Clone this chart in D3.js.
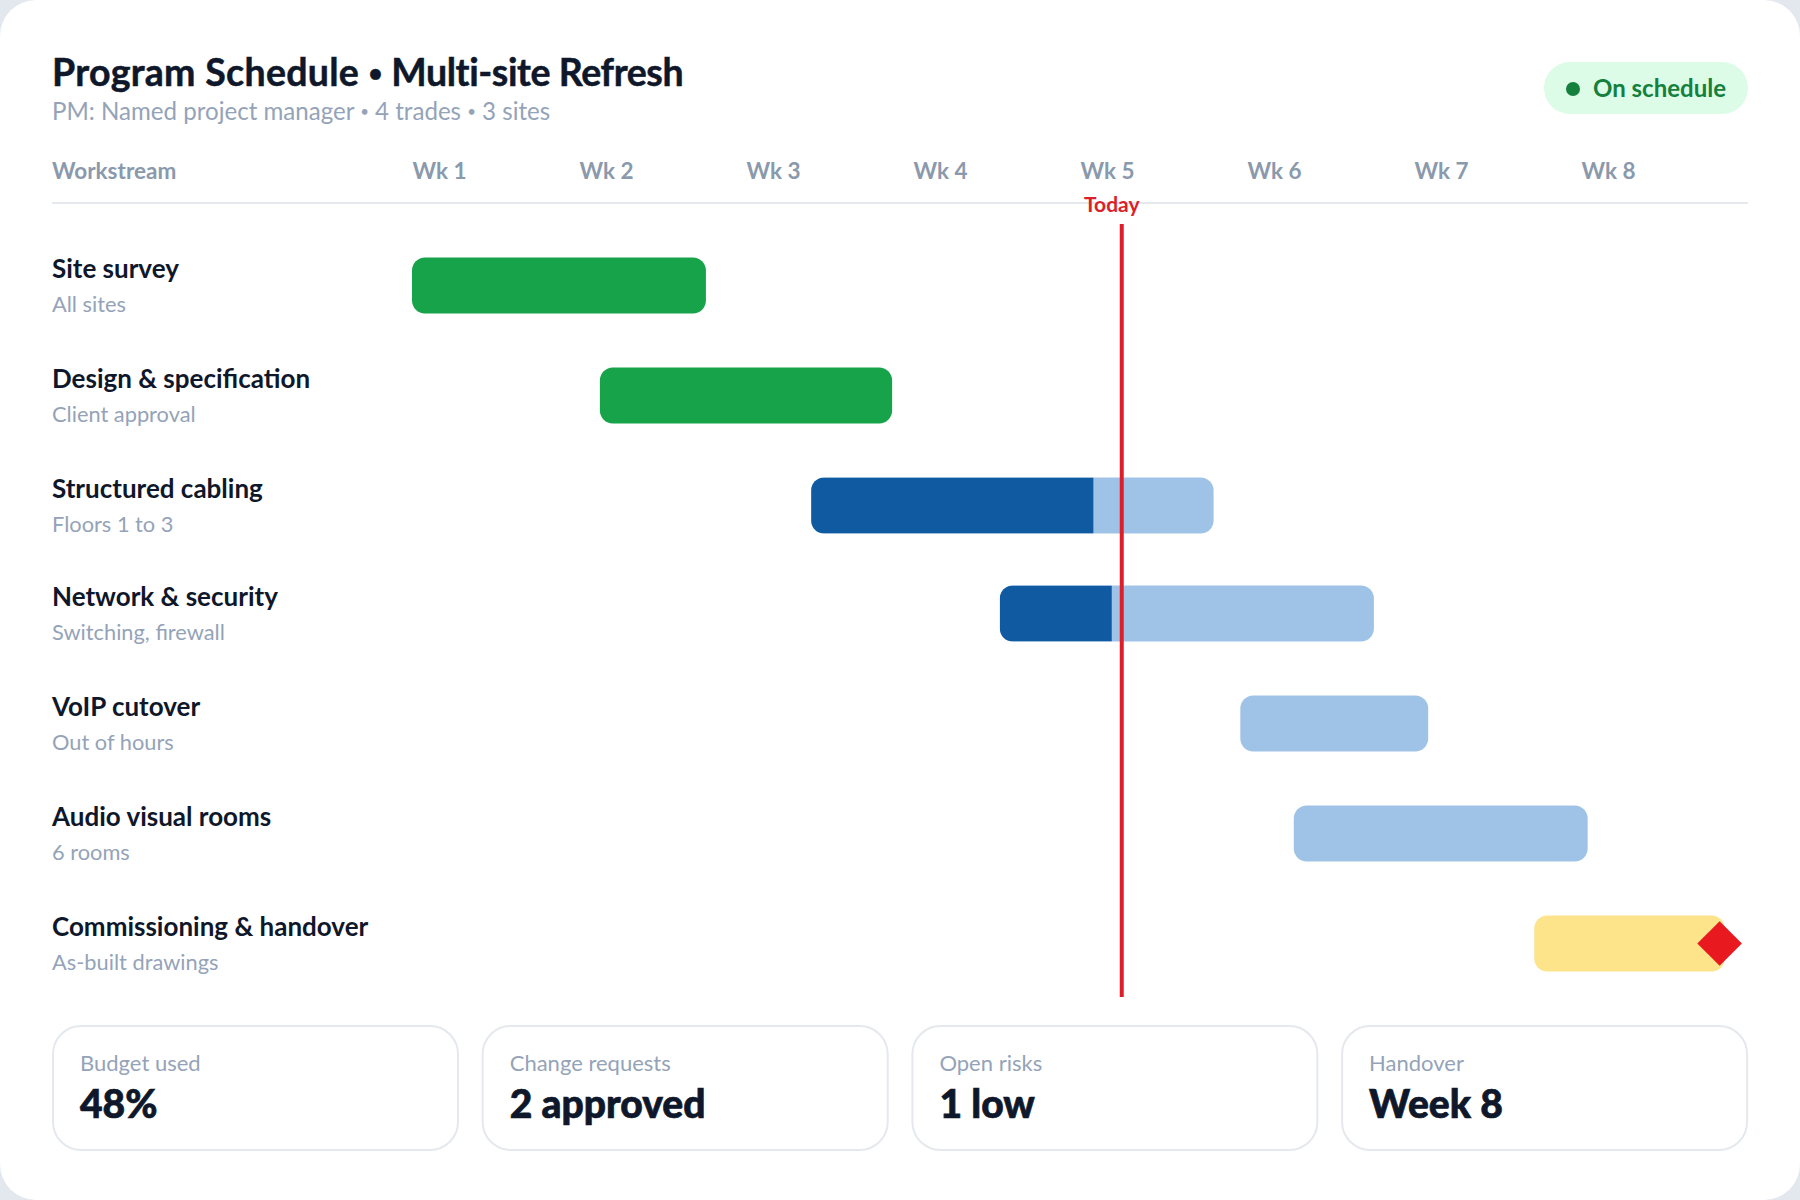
<!DOCTYPE html>
<html lang="en">
<head>
<meta charset="UTF-8">
<title>Program Schedule</title>
<script src="https://cdnjs.cloudflare.com/ajax/libs/d3/7.8.5/d3.min.js"></script>
<style>
    html, body { margin: 0; background: #e2e8ee; }
    svg { display: block; font-family: Lato, sans-serif; }
    .title { font-size: 37.5px; font-weight: 700; fill: #0f172a; stroke: #0f172a; stroke-width: 0.5px; }
    .subtitle { font-size: 24.1px; fill: #94a3b8; }
    .badge-text { font-size: 24px; font-weight: 700; fill: #15803d; }
    .head { font-size: 22.5px; font-weight: 700; fill: #8a99ab; }
    .axis path, .axis line { display: none; }
    .axis text { font-family: Lato, sans-serif; font-size: 22.5px; font-weight: 700; fill: #8a99ab; text-anchor: start; }
    .task { font-size: 26px; font-weight: 700; fill: #0f172a; }
    .detail { font-size: 21.8px; fill: #94a3b8; }
    .today { font-size: 21px; font-weight: 700; fill: #dc1f2b; }
    .kpi-label { font-size: 22px; fill: #94a3b8; }
    .kpi-value { font-size: 39px; font-weight: 900; fill: #0f172a; stroke: #0f172a; stroke-width: 0.7px; }
</style>
</head>
<body>
<div id="chart"></div>
<script>
// Data, in weeks from the start of Wk 1
const weeks = ["Wk 1", "Wk 2", "Wk 3", "Wk 4", "Wk 5", "Wk 6", "Wk 7", "Wk 8"];
const tasks = ["Site survey", "Design & specification", "Structured cabling", "Network & security", "VoIP cutover", "Audio visual rooms", "Commissioning & handover"];
const details = ["All sites", "Client approval", "Floors 1 to 3", "Switching, firewall", "Out of hours", "6 rooms", "As-built drawings"];
const starts = [0, 1.125, 2.39, 3.52, 4.96, 5.28, 6.72];
const ends = [1.76, 2.875, 4.80, 5.76, 6.085, 7.04, 7.86];
const doneTo = [1.76, 2.875, 4.08, 4.19, null, null, null];
const states = ["complete", "complete", "active", "active", "planned", "planned", "handover"];
const today = 4.25;
const milestone = 7.83;
const kpiLabels = ["Budget used", "Change requests", "Open risks", "Handover"];
const kpiValues = ["48%", "2 approved", "1 low", "Week 8"];

// Layout
const width = 1800, height = 1200;
const left = 52, right = 1748;
const barHeight = 56;
const rowTops = [257.5, 367.5, 477.5, 585.5, 695.5, 805.5, 915.5];
const stateColor = { complete: "#16a34a", active: "#9fc3e7", planned: "#9fc3e7", handover: "#fde38a" };

const x = d3.scaleLinear().domain([0, 8]).range([412, 1748]);
const y = d3.scaleOrdinal().domain(tasks).range(rowTops);

const svg = d3.select("#chart").append("svg")
    .attr("width", width)
    .attr("height", height);

// Card
svg.append("rect")
    .attr("width", width)
    .attr("height", height)
    .attr("rx", 36)
    .attr("fill", "#fff");

// Header, the bullets are smaller than the words round them
const title = svg.append("text").attr("class", "title").attr("x", left).attr("y", 86);
title.append("tspan").attr("letter-spacing", 0.3).text("Program Schedule ");
title.append("tspan").attr("font-size", 24).attr("dy", -4).text("\u2022");
title.append("tspan").attr("letter-spacing", -0.4).attr("dy", 4).text(" Multi-site Refresh");

const subtitle = svg.append("text").attr("class", "subtitle").attr("x", left).attr("y", 120);
subtitle.append("tspan").text("PM: Named project manager ");
subtitle.append("tspan").attr("font-size", 15).attr("dy", -3).text("\u2022");
subtitle.append("tspan").attr("dy", 3).text(" 4 trades ");
subtitle.append("tspan").attr("font-size", 15).attr("dy", -3).text("\u2022");
subtitle.append("tspan").attr("dy", 3).text(" 3 sites");

svg.append("rect")
    .attr("x", 1544).attr("y", 62)
    .attr("width", 204).attr("height", 52)
    .attr("rx", 26)
    .attr("fill", "#dcfce7");
svg.append("circle").attr("cx", 1573).attr("cy", 89).attr("r", 7).attr("fill", "#15803d");
svg.append("text").attr("class", "badge-text").attr("x", 1593).attr("y", 97).text("On schedule");

// Week axis
svg.append("text").attr("class", "head").attr("x", left).attr("y", 178.5).text("Workstream");

const axis = d3.axisTop(x)
    .tickValues(d3.range(weeks.length))
    .tickFormat(i => weeks[i])
    .tickSize(0)
    .tickPadding(0);

const axisG = svg.append("g")
    .attr("class", "axis")
    .attr("transform", "translate(0,178.5)")
    .call(axis);
axisG.selectAll("text").attr("dy", 0);

svg.append("line")
    .attr("x1", left).attr("x2", right)
    .attr("y1", 203).attr("y2", 203)
    .attr("stroke", "#e5e9ed")
    .attr("stroke-width", 2);

// Row labels
svg.selectAll(".task").data(tasks).join("text")
    .attr("class", "task")
    .attr("x", left)
    .attr("y", d => y(d) + 20.5)
    .text(d => d);

svg.selectAll(".detail").data(details).join("text")
    .attr("class", "detail")
    .attr("x", left)
    .attr("y", (d, i) => y(tasks[i]) + 54.5)
    .text(d => d);

// Bars
const defs = svg.append("defs");
const bars = svg.selectAll(".bar").data(tasks).join("g").attr("class", "bar");

bars.each(function(name, i) {
    const g = d3.select(this);
    const shape = sel => sel
        .attr("x", x(starts[i]))
        .attr("y", y(name))
        .attr("width", x(ends[i]) - x(starts[i]))
        .attr("height", barHeight)
        .attr("rx", 13);

    g.append("rect").call(shape).attr("fill", stateColor[states[i]]);

    // Done part of a bar still in progress
    if (states[i] === "active") {
        const id = "clip" + i;
        defs.append("clipPath").attr("id", id).append("rect").call(shape);
        g.append("rect")
            .attr("clip-path", `url(#${id})`)
            .attr("x", x(starts[i]))
            .attr("y", y(name))
            .attr("width", x(doneTo[i]) - x(starts[i]))
            .attr("height", barHeight)
            .attr("fill", "#0f5aa1");
    }
});

// Handover milestone
svg.append("path")
    .attr("d", d3.symbol(d3.symbolSquare, 992)())
    .attr("transform", `translate(${x(milestone)},${y(tasks[6]) + barHeight / 2}) rotate(45)`)
    .attr("fill", "#e8191f");

// Today marker
svg.append("line")
    .attr("x1", x(today)).attr("x2", x(today))
    .attr("y1", 224).attr("y2", 997)
    .attr("stroke", "#dc1f2b")
    .attr("stroke-width", 4);
svg.append("text").attr("class", "today")
    .attr("x", x(today) - 10)
    .attr("y", 212)
    .attr("text-anchor", "middle")
    .text("Today");

// KPI cards
const cardX = d3.scaleBand().domain(kpiLabels).range([left, left + 4 * 429.7]);
const kpis = svg.selectAll(".kpi").data(kpiLabels).join("g")
    .attr("class", "kpi")
    .attr("transform", d => `translate(${cardX(d)},1026)`);

kpis.append("rect")
    .attr("x", 1).attr("y", 0)
    .attr("width", 405)
    .attr("height", 124)
    .attr("rx", 28)
    .attr("fill", "#fff")
    .attr("stroke", "#e5e9ed")
    .attr("stroke-width", 2);

kpis.append("text").attr("class", "kpi-label").attr("x", 28).attr("y", 45).text(d => d);
kpis.append("text").attr("class", "kpi-value").attr("x", 28).attr("y", 92).text((d, i) => kpiValues[i]);
</script>
</body>
</html>
